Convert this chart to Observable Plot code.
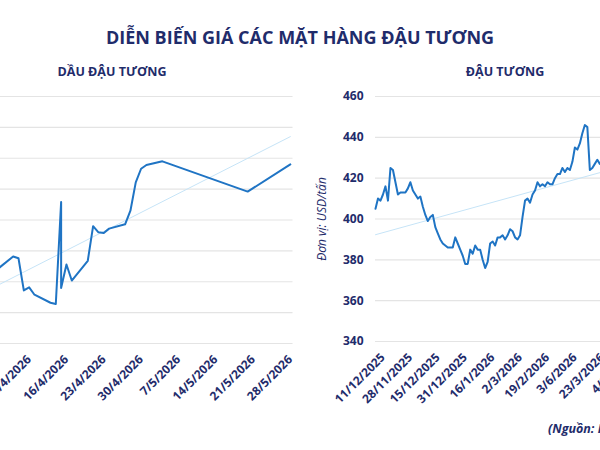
<!DOCTYPE html>
<html><head><meta charset="utf-8">
<script src="https://cdn.jsdelivr.net/npm/d3@7"></script>
<script src="https://cdn.jsdelivr.net/npm/@observablehq/plot@0.6"></script>
<style>
body{margin:0;background:#fff;}
#wrap{position:relative;width:600px;height:450px;overflow:hidden;background:#fff;font-family:"Open Sans",sans-serif;color:#1f2c6b;}
.t{position:absolute;font-weight:700;white-space:nowrap;line-height:1;}
#title{left:0;width:600px;top:28px;text-align:center;font-size:18px;}
#subL{left:12px;width:200px;top:66px;text-align:center;font-size:12.5px;}
#subR{left:405px;width:200px;top:66px;text-align:center;font-size:12.5px;}
#src{left:548px;top:423px;font-size:12.5px;font-style:italic;}
#left{position:absolute;left:-64px;top:86px;width:361px;height:327px;}
#right{position:absolute;left:300px;top:86px;width:409px;height:327px;}
#left svg,#right svg{max-width:none;}
svg [aria-label="y-axis label"] text{font-weight:400;font-style:italic;}
</style>
</head><body>
<div id="wrap">
  <div class="t" id="title">DIỄN BIẾN GIÁ CÁC MẶT HÀNG ĐẬU TƯƠNG</div>
  <div class="t" id="subL">DẦU ĐẬU TƯƠNG</div>
  <div class="t" id="subR">ĐẬU TƯƠNG</div>
  <div id="left"></div>
  <div id="right"></div>
  <div class="t" id="src">(Nguồn: Investing.com)</div>
</div>
<script>
// ---- Dầu đậu tương (left panel) ----
const oilDates = ["2026-04-03","2026-04-06","2026-04-07","2026-04-08","2026-04-09","2026-04-10","2026-04-13","2026-04-14","2026-04-15","2026-04-15","2026-04-16","2026-04-17","2026-04-20","2026-04-21","2026-04-22","2026-04-23","2026-04-24","2026-04-27","2026-04-28","2026-04-29","2026-04-30","2026-05-01","2026-05-04","2026-05-20","2026-05-28"];
const oilValues = [1120,1141,1138,1086,1091,1079,1066,1064,1229,1090,1128,1102,1134,1190,1180,1179,1186,1193,1215,1261,1283,1289,1295,1246,1290];
const oilTrendDates = ["2026-04-01","2026-05-28"];
const oilTrendValues = [1085,1335];
const oilXTicks = ["2026-04-09","2026-04-16","2026-04-23","2026-04-30","2026-05-07","2026-05-14","2026-05-21","2026-05-28"];
const oilYTicks = [1000,1050,1100,1150,1200,1250,1300,1350,1400];

// ---- Đậu tương (right panel) ----
const soyValues = [405,410,409,412,416,409,425,424,418,412,413,413,413,415,418,414,412,410,411,406,
  402,399,401,402,396,393,390,388,387,386,386,386,391,388,385,382,378,378,385,383,
  387,385,385,380,376,379,388,389,387,391,391,392,390,392,395,394,391,390,392,401,
  409,410,408,412,414,418,416,417,416,418,417,417,420,422,422,425,423,425,424,428,
  435,434,437,442,446,445,424,425,427,429,427,427,428];
const soyTrendIdx = [0,90];
const soyTrendValues = [392.3,422.7];
const soyXLabels = ["11/12/2025","28/11/2025","15/12/2025","31/12/2025","16/1/2026","2/3/2026","19/2/2026","3/6/2026","23/3/2026","4/8/2026"];
const soyXTickIdx = [3,14,25,36,47,58,69,80,91,102];
const soyYTicks = [340,360,380,400,420,440,460];

const navy = "#1f2c6b", lineColor = "#1f74c4", trendColor = "#c6e4f7", gridColor = "#e4e4e4";

const oilData = oilDates.map((d,i)=>({date:new Date(d), value:oilValues[i]}));
const oilTrend = oilTrendDates.map((d,i)=>({date:new Date(d), value:oilTrendValues[i]}));
const fmtDate = d => `${d.getUTCDate()}/${d.getUTCMonth()+1}/${d.getUTCFullYear()}`;

const left = Plot.plot({
  width: 361, height: 327, marginLeft: 50, marginRight: 4.5, marginTop: 10, marginBottom: 70,
  style: {fontFamily: "Open Sans", fontSize: "12px", fontWeight: "bold", color: navy, background: "transparent"},
  x: {type: "utc", domain: [new Date("2026-04-01"), new Date("2026-05-28T12:00:00Z")]},
  y: {domain: [1000, 1400], axis: null},
  marks: [
    Plot.gridY(oilYTicks, {stroke: gridColor, strokeOpacity: 1, strokeWidth: 1.2}),
    Plot.axisX(oilXTicks.map(d=>new Date(d)), {tickFormat: fmtDate, tickRotate: -45, tickSize: 0, tickPadding: 14, label: null}),
    Plot.line(oilTrend, {x: "date", y: "value", stroke: trendColor, strokeWidth: 1}),
    Plot.line(oilData, {x: "date", y: "value", stroke: lineColor, strokeWidth: 2})
  ]
});
document.getElementById("left").appendChild(left);

const soyData = soyValues.map((v,i)=>({idx:i, value:v}));
const soyTrend = soyTrendIdx.map((d,i)=>({idx:d, value:soyTrendValues[i]}));

const right = Plot.plot({
  width: 409, height: 327, marginLeft: 75, marginRight: 10, marginTop: 10, marginBottom: 72,
  style: {fontFamily: "Open Sans", fontSize: "12px", fontWeight: "bold", color: navy, background: "transparent"},
  x: {domain: [0, 130]},
  y: {domain: [340, 460]},
  marks: [
    Plot.gridY(soyYTicks, {stroke: gridColor, strokeOpacity: 1, strokeWidth: 1.2}),
    Plot.axisY(soyYTicks, {tickSize: 0, tickPadding: 12, label: "Đơn vị: USD/tấn", labelAnchor: "center", labelArrow: false, labelOffset: 58}),
    Plot.axisX(soyXTickIdx, {tickFormat: d => soyXLabels[soyXTickIdx.indexOf(d)], tickRotate: -45, tickSize: 0, tickPadding: 14, label: null}),
    Plot.line(soyTrend, {x: "idx", y: "value", stroke: trendColor, strokeWidth: 1}),
    Plot.line(soyData, {x: "idx", y: "value", stroke: lineColor, strokeWidth: 2})
  ]
});
document.getElementById("right").appendChild(right);
</script>
</body></html>
